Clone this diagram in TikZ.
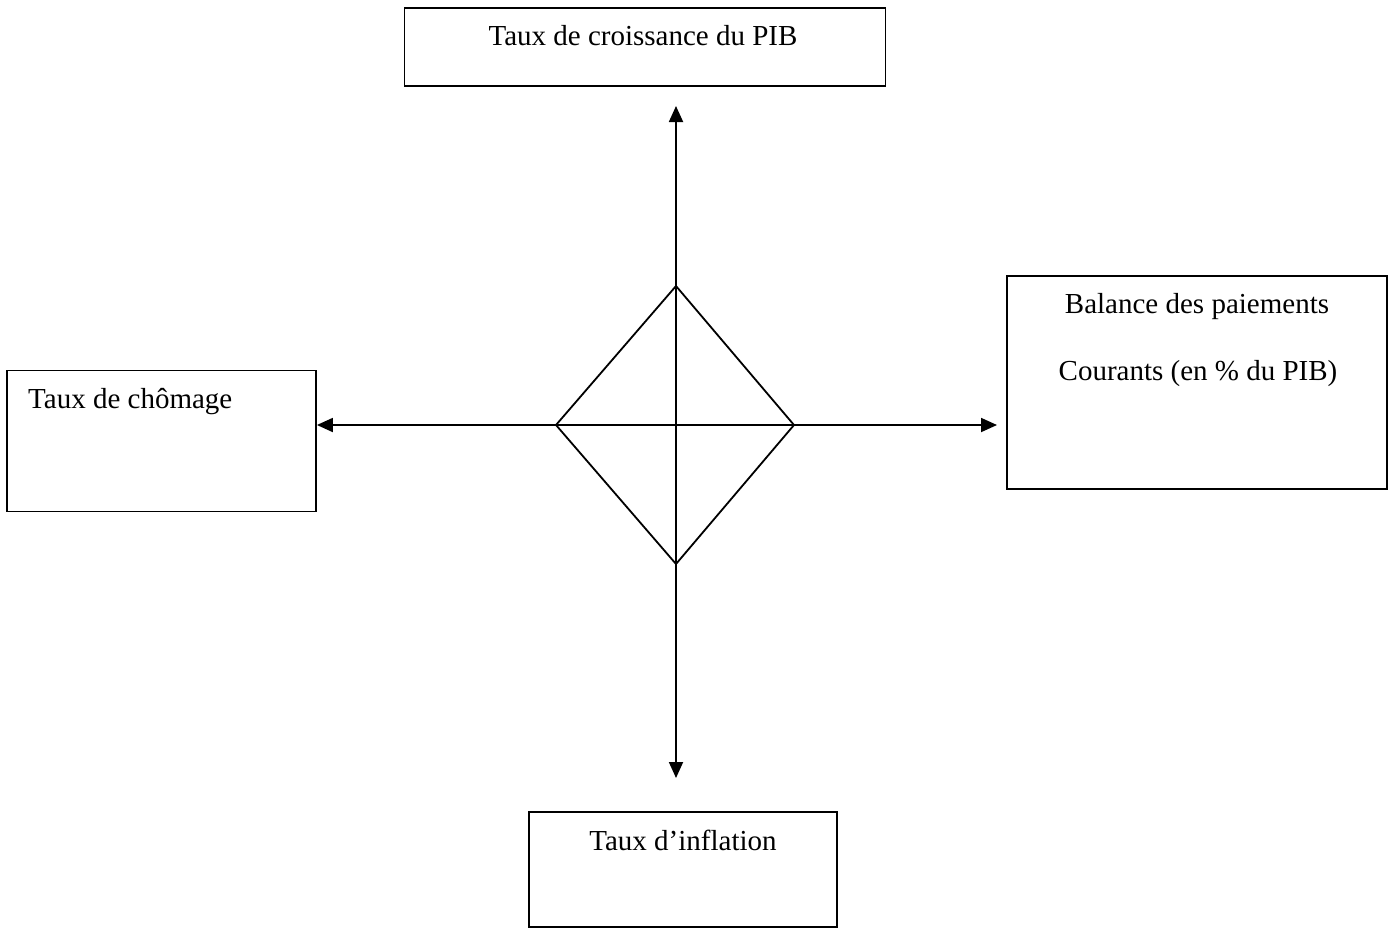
\documentclass[tikz,border=0pt]{standalone}
\usepackage{fontspec}
\setmainfont{Liberation Serif}
\usetikzlibrary{arrows.meta}

\begin{document}
\begin{tikzpicture}[x=1pt,y=-1pt,
  box/.style={draw,line width=1.8pt,inner sep=0pt},
  lbl/.style={anchor=base,inner sep=0pt,font=\fontsize{29}{35}\selectfont},
  axe/.style={line width=1.8pt,{Triangle[length=16pt,width=14pt]}-{Triangle[length=16pt,width=14pt]}}]
\useasboundingbox (0,0) rectangle (1394,927);
% les quatre cadres
\node[box,minimum width=481pt,minimum height=78pt] (pib) at (645,47) {};
\node[box,minimum width=309pt,minimum height=141pt] (chom) at (161.5,441) {};
\node[box,minimum width=380pt,minimum height=213pt] (bal) at (1197,382.5) {};
\node[box,minimum width=308pt,minimum height=115pt] (infl) at (683,869.5) {};
\node[lbl] (tpib) at (643,45) {Taux de croissance du PIB};
\node[lbl,anchor=base west] (tchom) at (28,408) {Taux de chômage};
\node[lbl] (tbal) at (1197,313) {Balance des paiements};
\node[lbl] (tcour) at (1198,380) {Courants (en \% du PIB)};
\node[lbl] (tinfl) at (683,850) {Taux d’inflation};
% le carre magique
\coordinate (c) at (676,425);
\coordinate (n) at (676,286);
\coordinate (e) at (794,425);
\coordinate (s) at (676,564);
\coordinate (w) at (556,425);
\draw[line width=1.8pt] (n) -- (e) -- (s) -- (w) -- cycle;
% les axes
\coordinate (haut) at (676,106);
\coordinate (bas) at (676,778);
\coordinate (droite) at (997,425);
\draw[axe] (haut) -- (bas);
\draw[axe] (chom.east |- c) -- (droite);
\end{tikzpicture}
\end{document}
